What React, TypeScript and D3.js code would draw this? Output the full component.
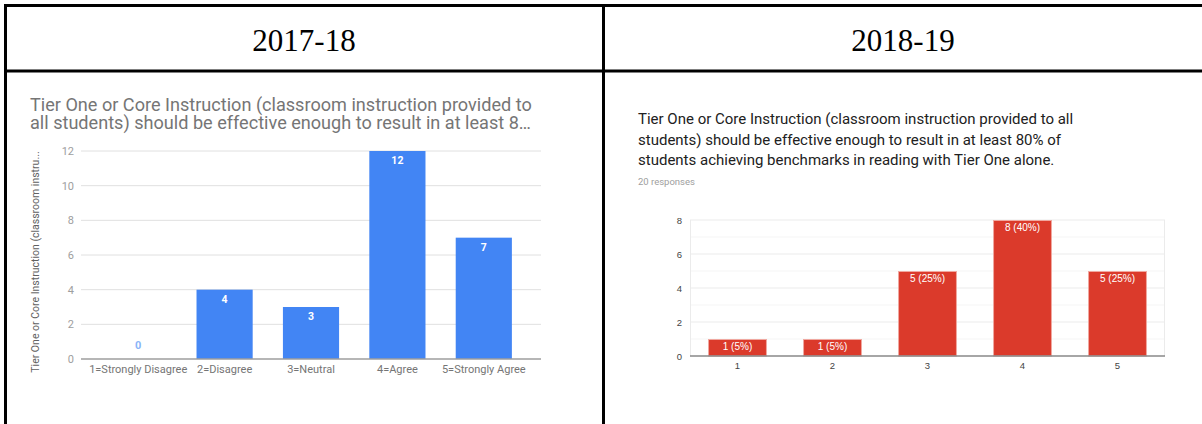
import React from "react";
import * as d3 from "d3";

const headers = ["2017-18", "2018-19"];

const leftTitleLines = [
  "Tier One or Core Instruction (classroom instruction provided to",
  "all students) should be effective enough to result in at least 8…",
];
const leftYAxisTitle = "Tier One or Core Instruction (classroom instru...";
const leftCategories = ["1=Strongly Disagree", "2=Disagree", "3=Neutral", "4=Agree", "5=Strongly Agree"];
const leftValues = [0, 4, 3, 12, 7];
const leftTicks = [0, 2, 4, 6, 8, 10, 12];

const rightTitleLines = [
  "Tier One or Core Instruction (classroom instruction provided to all",
  "students) should be effective enough to result in at least 80% of",
  "students achieving benchmarks in reading with Tier One alone.",
];
const rightSubtitle = "20 responses";
const rightCategories = ["1", "2", "3", "4", "5"];
const rightValues = [1, 1, 5, 8, 5];
const rightLabels = ["1 (5%)", "1 (5%)", "5 (25%)", "8 (40%)", "5 (25%)"];
const rightTicks = [0, 2, 4, 6, 8];
const rightMinorTicks = [1, 3, 5, 7];

export default function App() {
  const W = 1202;
  const H = 424;

  // left chart scales
  const lx = d3.scaleBand<string>().domain(leftCategories).range([95, 527]).paddingInner(0.35).paddingOuter(0.175);
  const ly = d3.scaleLinear().domain([0, 12]).range([359, 151]);
  const lPlot = [81, 541];

  // right chart scales
  const rx = d3.scaleBand<string>().domain(rightCategories).range([690, 1165]).paddingInner(0.38).paddingOuter(0.19);
  const ry = d3.scaleLinear().domain([0, 8]).range([356, 220]);
  const rPlot = [690, 1165];

  const leftFont = "Roboto, 'Noto Sans', sans-serif";
  const rightFont = "Roboto, Arial, 'Liberation Sans', sans-serif";
  const axisFont = "Arial, 'Liberation Sans', sans-serif";

  return (
    <svg width={W} height={H} style={{ position: "absolute", left: 0, top: 0, background: "#fff" }}>
      <rect x={0} y={0} width={W} height={H} fill="#fff" />
      {/* table borders */}
      <line x1={4} x2={W} y1={5.5} y2={5.5} stroke="#000" strokeWidth={3} />
      <line x1={4} x2={W} y1={71} y2={71} stroke="#000" strokeWidth={3} />
      <line x1={5.5} x2={5.5} y1={4} y2={H} stroke="#000" strokeWidth={3} />
      <line x1={603.5} x2={603.5} y1={4} y2={H} stroke="#000" strokeWidth={3} />

      {headers.map((h, i) => (
        <text key={h} x={i === 0 ? 304 : 903} y={51} textAnchor="middle"
          fontFamily="'Liberation Serif', 'Times New Roman', serif" fontSize={31} fill="#000">
          {h}
        </text>
      ))}

      {/* LEFT CHART */}
      <g fontFamily={leftFont}>
        {leftTitleLines.map((t, i) => (
          <text key={i} x={30} y={111 + i * 18} fontSize={18.1} fill="#757575">{t}</text>
        ))}
        <text transform={`translate(39,262) rotate(-90)`} textAnchor="middle" fontSize={10.5} fill="#616161">
          {leftYAxisTitle}
        </text>
        {leftTicks.map((t) => (
          <g key={t}>
            {t !== 0 && (
              <line x1={lPlot[0]} x2={lPlot[1]} y1={ly(t)} y2={ly(t)} stroke="#e0e0e0" strokeWidth={1} />
            )}
            <text x={74} y={ly(t) + 4} textAnchor="end" fontSize={11} fill="#9e9e9e">{t}</text>
          </g>
        ))}
        {leftCategories.map((c, i) => {
          const v = leftValues[i];
          const x = lx(c)!;
          const bw = lx.bandwidth();
          const y = ly(v);
          return (
            <g key={c}>
              {v > 0 && <rect x={x} y={y} width={bw} height={ly(0) - y} fill="#4285f4" />}
              {v > 0 ? (
                <text x={x + bw / 2} y={y + 13} textAnchor="middle" fontSize={10.5} fontWeight="bold" fill="#fff">{v}</text>
              ) : (
                <text x={x + bw / 2} y={y - 10} textAnchor="middle" fontSize={11} fontWeight="bold" fill="#8ab4f8">{v}</text>
              )}
              <text x={x + bw / 2} y={373} textAnchor="middle" fontSize={11} fill="#757575">{c}</text>
            </g>
          );
        })}
        <line x1={lPlot[0]} x2={lPlot[1]} y1={ly(0)} y2={ly(0)} stroke="#9e9e9e" strokeWidth={1.5} />
      </g>

      {/* RIGHT CHART */}
      <g fontFamily={rightFont}>
        {rightTitleLines.map((t, i) => (
          <text key={i} x={638} y={124 + i * 20.5} fontSize={15} fill="#212121">{t}</text>
        ))}
        <text x={638} y={185} fontSize={9.5} fill="#9e9e9e">{rightSubtitle}</text>
      </g>
      <g fontFamily={axisFont}>
        {rightMinorTicks.map((t) => (
          <line key={"m" + t} x1={rPlot[0]} x2={rPlot[1]} y1={ry(t)} y2={ry(t)} stroke="#f5f5f5" strokeWidth={1} />
        ))}
        {rightTicks.map((t) => (
          <g key={t}>
            {t !== 0 && (
              <line x1={rPlot[0]} x2={rPlot[1]} y1={ry(t)} y2={ry(t)} stroke="#ebebeb" strokeWidth={1} />
            )}
            <text x={682} y={ry(t) + 3.5} textAnchor="end" fontSize={9.5} fill="#444">{t}</text>
          </g>
        ))}
        <line x1={rPlot[0] + 0.5} x2={rPlot[0] + 0.5} y1={ry(8)} y2={ry(0)} stroke="#ebebeb" strokeWidth={1} />
        <line x1={rPlot[1] - 0.5} x2={rPlot[1] - 0.5} y1={ry(8)} y2={ry(0)} stroke="#ebebeb" strokeWidth={1} />
        {rightCategories.map((c, i) => {
          const v = rightValues[i];
          const x = rx(c)!;
          const bw = rx.bandwidth();
          const y = ry(v);
          return (
            <g key={c}>
              <rect x={x + 0.5} y={y + 0.5} width={bw - 1} height={ry(0) - y - 0.5} fill="#db3a2b" stroke="#f0a8a0" strokeWidth={1} />
              <text x={x + bw / 2} y={y + 11} textAnchor="middle" fontSize={10} fill="#fff">{rightLabels[i]}</text>
              <text x={x + bw / 2} y={369} textAnchor="middle" fontSize={9.5} fill="#444">{c}</text>
            </g>
          );
        })}
        <line x1={rPlot[0]} x2={rPlot[1]} y1={ry(0)} y2={ry(0)} stroke="#888" strokeWidth={1.5} />
      </g>
    </svg>
  );
}
